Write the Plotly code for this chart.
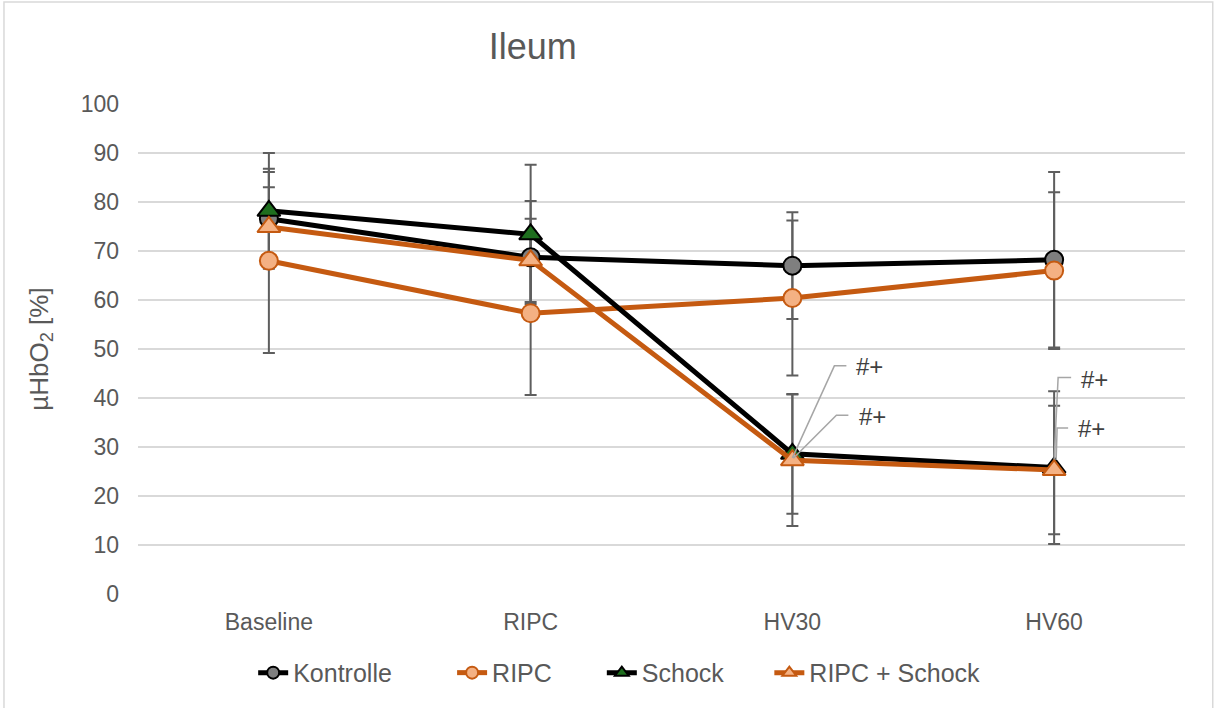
import plotly.graph_objects as go

# Time points
categories = ["Baseline", "RIPC", "HV30", "HV60"]

# Mean µHbO2 [%] per group
kontrolle = [76.6, 68.7, 67.0, 68.2]
ripc = [68.0, 57.3, 60.4, 66.0]
schock = [78.2, 73.4, 28.6, 25.8]
ripc_schock = [74.9, 68.1, 27.3, 25.3]

# Standard deviations per group
kontrolle_sd = [9.5, 11.5, 10.9, 17.9]
ripc_sd = [18.8, 16.7, 15.8, 16.0]
schock_sd = [11.8, 14.2, 12.2, 15.6]
ripc_schock_sd = [8.1, 8.5, 13.4, 13.1]

# Significance labels (time point, group value they belong to)
sig_text = "#+"
sig_hv30_schock = ("HV30", schock[2])
sig_hv30_ripc_schock = ("HV30", ripc_schock[2])
sig_hv60_schock = ("HV60", schock[3])
sig_hv60_ripc_schock = ("HV60", ripc_schock[3])

FONT = "Liberation Sans, Arial, sans-serif"
TEXT = "#595959"
GRID = "#D9D9D9"
ERR = "#5E5E5E"
ORANGE = "#C55A11"

# name, values, sd, line colour, symbol, fill, edge, legend id, legend x (paper)
groups = [
    ("Kontrolle", kontrolle, kontrolle_sd, "black", "circle", "#7F7F7F", "black", "legend", 0.110),
    ("RIPC", ripc, ripc_sd, ORANGE, "circle", "#F4B183", ORANGE, "legend2", 0.300),
    ("Schock", schock, schock_sd, "black", "triangle-up", "#1E6E1E", "black", "legend3", 0.443),
    ("RIPC + Schock", ripc_schock, ripc_schock_sd, ORANGE, "triangle-up", "#F4B183", ORANGE, "legend4", 0.603),
]

fig = go.Figure()

# Error bars first so that every marker sits on top of them
for name, vals, sd, *_ in groups:
    fig.add_trace(go.Scatter(
        x=categories, y=vals, mode="markers",
        marker=dict(size=1, color="rgba(0,0,0,0)"),
        error_y=dict(type="data", array=sd, visible=True,
                     color=ERR, thickness=2, width=6),
        showlegend=False, hoverinfo="skip",
    ))

legend_layouts = {}
for name, vals, sd, lc, sym, fill, edge, leg, lx in groups:
    fig.add_trace(go.Scatter(
        x=categories, y=vals, name=name, mode="lines+markers",
        line=dict(color=lc, width=5),
        marker=dict(symbol=sym, size=18 if sym == "circle" else 20,
                    color=fill, line=dict(color=edge, width=2)),
        legend=leg,
    ))
    legend_layouts[leg] = dict(
        orientation="h", x=lx, xanchor="left", y=-0.161, yanchor="middle",
        itemsizing="constant", font=dict(size=25, color=TEXT),
        bgcolor="rgba(0,0,0,0)",
    )

# Significance labels with bent leader lines (pixel offsets from the point)
labels = [
    (sig_hv30_schock, [(0, -4), (42, 88), (54, 88)], (77, 87)),
    (sig_hv30_ripc_schock, [(1, 2), (44, 45), (56, 45)], (80, 44)),
    (sig_hv60_schock, [(0, 8), (4, 90), (17, 90)], (40, 88)),
    (sig_hv60_ripc_schock, [(2, 10), (3, 42), (14, 42)], (37, 42)),
]
for (cat, val), pts, (dx, dy) in labels:
    path = "M " + " L ".join(f"{px},{py}" for px, py in pts)
    fig.add_shape(type="path", path=path, xref="x", yref="y",
                  xsizemode="pixel", ysizemode="pixel",
                  xanchor=cat, yanchor=val,
                  line=dict(color="#A6A6A6", width=1.5))
    fig.add_annotation(x=cat, y=val, text=sig_text, showarrow=False,
                       xshift=dx, yshift=dy,
                       font=dict(family=FONT, size=24, color="#404040"))

# Outer chart border
fig.add_shape(type="rect", xref="paper", yref="paper",
              x0=-0.128, x1=1.0265, y0=-0.25, y1=1.208,
              line=dict(color=GRID, width=1.5), layer="below")

fig.update_layout(
    width=1214, height=708,
    margin=dict(l=138, r=29, t=104, b=114),
    paper_bgcolor="white", plot_bgcolor="white",
    font=dict(family=FONT, color=TEXT, size=23),
    title=dict(text="Ileum", x=0.377, xref="paper", xanchor="center",
               y=0.935, yref="container", yanchor="middle",
               font=dict(family=FONT, size=36, color=TEXT)),
    xaxis=dict(type="category", categoryorder="array", categoryarray=categories,
               range=[-0.5, 3.5], showgrid=False, zeroline=False,
               showline=False, ticks="", ticklabelstandoff=12,
               tickfont=dict(size=23, color=TEXT)),
    yaxis=dict(range=[0, 100], dtick=10, showgrid=True, gridcolor=GRID,
               gridwidth=1.5, zeroline=False, showline=False, ticks="",
               ticklabelstandoff=18,
               tickfont=dict(size=23, color=TEXT),
               title=dict(text="µHbO<sub>2</sub> [%]", standoff=24,
                          font=dict(size=26, color=TEXT))),
    showlegend=True,
    **legend_layouts,
)

fig.write_html("out.html")
